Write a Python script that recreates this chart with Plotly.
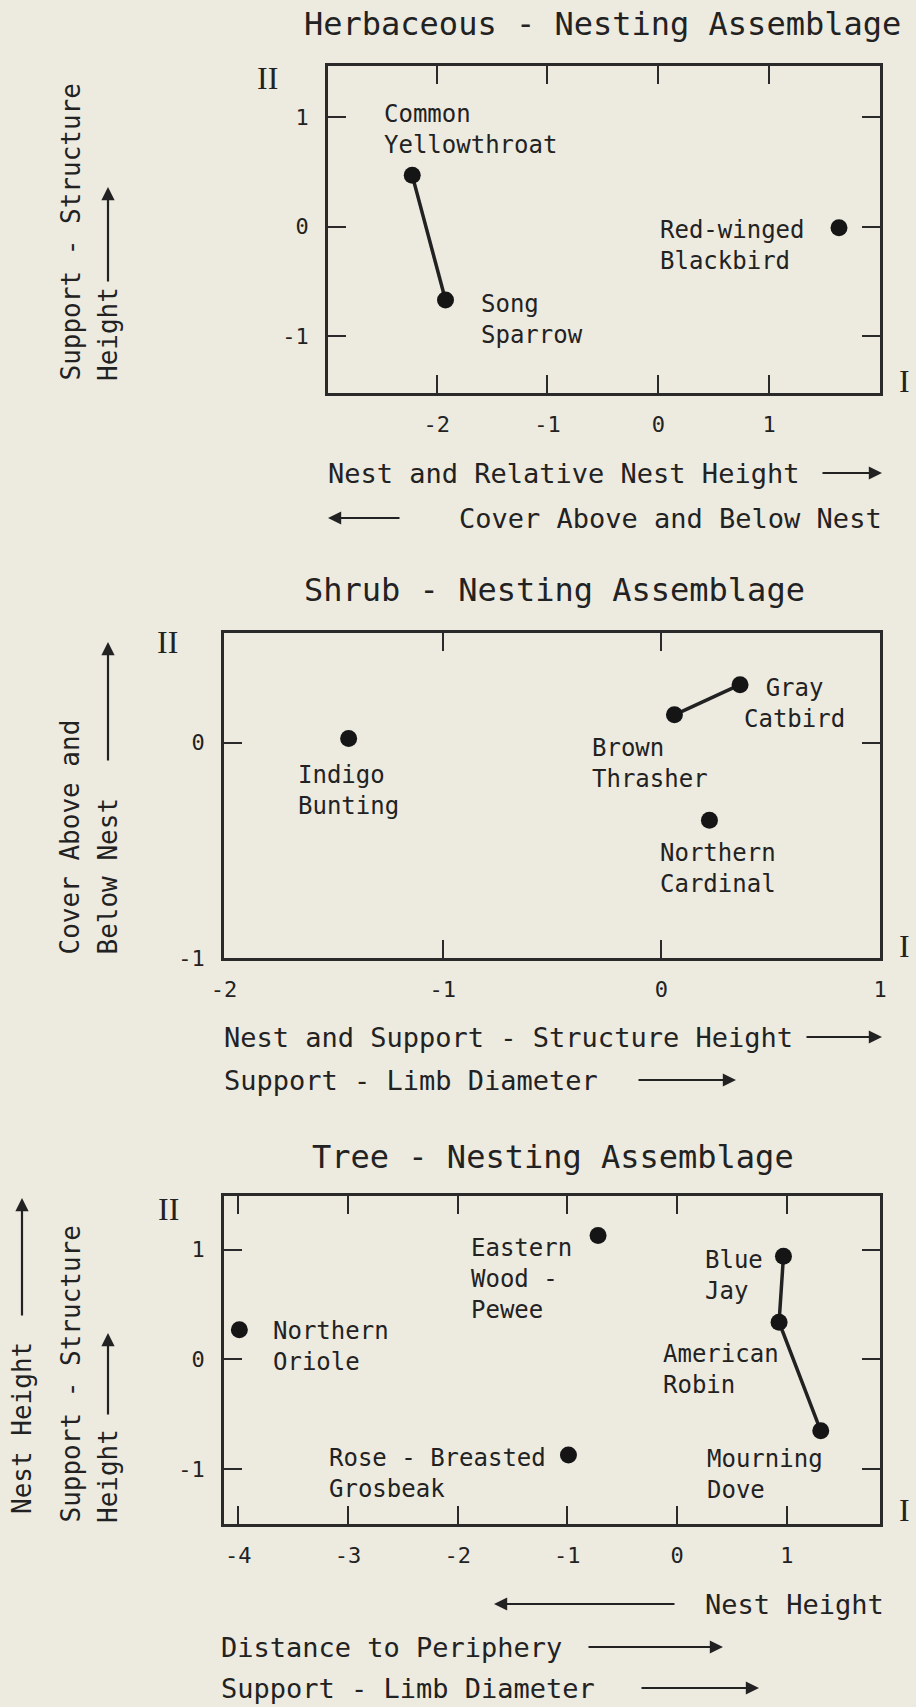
import plotly.graph_objects as go

# ---------------- data ----------------
herb_species = ["Common Yellowthroat", "Song Sparrow", "Red-winged Blackbird"]
herb_labels = ["Common<br>Yellowthroat", "Song<br>Sparrow", "Red-winged<br>Blackbird"]
herb_x = [-2.22, -1.92, 1.63]
herb_y = [0.47, -0.67, -0.01]
herb_links = [["Common Yellowthroat", "Song Sparrow"]]

shrub_species = ["Indigo Bunting", "Gray Catbird", "Brown Thrasher", "Northern Cardinal"]
shrub_labels = ["Indigo<br>Bunting", "Gray<br>Catbird", "Brown<br>Thrasher", "Northern<br>Cardinal"]
shrub_x = [-1.43, 0.36, 0.06, 0.22]
shrub_y = [0.02, 0.27, 0.13, -0.36]
shrub_links = [["Brown Thrasher", "Gray Catbird"]]

tree_species = ["Northern Oriole", "Eastern Wood-Pewee", "Blue Jay", "American Robin",
                "Mourning Dove", "Rose-Breasted Grosbeak"]
tree_labels = ["Northern<br>Oriole", "Eastern<br>Wood -<br>Pewee", "Blue<br>Jay", "American<br>Robin",
               "Mourning<br>Dove", "Rose - Breasted<br>Grosbeak"]
tree_x = [-3.99, -0.72, 0.97, 0.93, 1.31, -0.99]
tree_y = [0.27, 1.13, 0.94, 0.34, -0.65, -0.87]
tree_links = [["Blue Jay", "American Robin", "Mourning Dove"]]

herb_xticks = [-2, -1, 0, 1]
herb_yticks = [-1, 0, 1]
shrub_xticks = [-2, -1, 0, 1]
shrub_yticks = [-1, 0]
tree_xticks = [-4, -3, -2, -1, 0, 1]
tree_yticks = [-1, 0, 1]

titles = ["Herbaceous - Nesting Assemblage", "Shrub - Nesting Assemblage", "Tree - Nesting Assemblage"]

# ---------------- style ----------------
W, H = 916, 1707
BG = "#EDEAE0"
INK = "#222222"
FONT = "DejaVu Sans Mono"


def px(x):
    return x / W


def py(y):
    return 1 - y / H


# label placement offsets (pixels): dx, dy(down), anchor
label_style = {
    "Common Yellowthroat": (-30, -46, "left"),
    "Song Sparrow": (34, 19, "left"),
    "Red-winged Blackbird": (-181, 18, "left"),
    "Indigo Bunting": (-53, 52, "left"),
    "Gray Catbird": (54, 19, "center"),
    "Brown Thrasher": (-84, 49, "left"),
    "Northern Cardinal": (-51, 48, "left"),
    "Eastern Wood-Pewee": (-129, 44, "left"),
    "Blue Jay": (-80, 19, "left"),
    "American Robin": (-118, 47, "left"),
    "Mourning Dove": (-116, 44, "left"),
    "Northern Oriole": (32, 17, "left"),
    "Rose-Breasted Grosbeak": (-241, 19, "left"),
}

panels = [
    dict(sp=herb_species, lab=herb_labels, x=herb_x, y=herb_y, links=herb_links,
         xt=herb_xticks, yt=herb_yticks, xr=[-2.98, 2.0], yr=[-1.52, 1.47],
         dom_x=[328, 880], dom_y=[66, 393]),
    dict(sp=shrub_species, lab=shrub_labels, x=shrub_x, y=shrub_y, links=shrub_links,
         xt=shrub_xticks, yt=shrub_yticks, xr=[-2.0, 1.0], yr=[-1.0, 0.51],
         dom_x=[224, 880], dom_y=[633, 958]),
    dict(sp=tree_species, lab=tree_labels, x=tree_x, y=tree_y, links=tree_links,
         xt=tree_xticks, yt=tree_yticks, xr=[-4.13, 1.85], yr=[-1.5, 1.49],
         dom_x=[224, 880], dom_y=[1196, 1524]),
]

fig = go.Figure()
annotations = []

for i, p in enumerate(panels, start=1):
    xa = "x" if i == 1 else f"x{i}"
    ya = "y" if i == 1 else f"y{i}"
    lookup = {s: (xx, yy) for s, xx, yy in zip(p["sp"], p["x"], p["y"])}
    for chain in p["links"]:
        fig.add_trace(go.Scatter(
            x=[lookup[s][0] for s in chain], y=[lookup[s][1] for s in chain],
            mode="lines", line=dict(color=INK, width=3.5),
            xaxis=xa, yaxis=ya, hoverinfo="skip"))
    fig.add_trace(go.Scatter(
        x=p["x"], y=p["y"], mode="markers", text=p["sp"],
        marker=dict(color="#151515", size=17),
        xaxis=xa, yaxis=ya, hoverinfo="text"))
    for s, lab, xx, yy in zip(p["sp"], p["lab"], p["x"], p["y"]):
        dx, dy, anc = label_style[s]
        annotations.append(dict(
            x=xx, y=yy, xref=xa, yref=ya, text=lab, showarrow=False,
            xshift=dx, yshift=-dy, xanchor=anc, yanchor="middle", align=anc,
            font=dict(family=FONT, size=24, color=INK)))

    axis_common = dict(showgrid=False, zeroline=False, showline=True, linecolor="#2a2a2a",
                       linewidth=2.5, mirror="ticks", ticks="inside", tickwidth=2,
                       tickcolor="#2a2a2a", tickfont=dict(family=FONT, size=22, color=INK),
                       automargin=False)
    xkey = "xaxis" if i == 1 else f"xaxis{i}"
    ykey = "yaxis" if i == 1 else f"yaxis{i}"
    fig.update_layout(**{
        xkey: dict(axis_common, range=p["xr"], tickvals=p["xt"],
                   ticktext=[str(v) for v in p["xt"]], ticklen=18,
                   domain=[px(p["dom_x"][0]), px(p["dom_x"][1])], anchor=ya,
                   ticklabelstandoff=10),
        ykey: dict(axis_common, range=p["yr"], tickvals=p["yt"],
                   ticktext=[str(v) for v in p["yt"]], ticklen=18,
                   domain=[py(p["dom_y"][1]), py(p["dom_y"][0])], anchor=xa,
                   ticklabelstandoff=12),
    })


def text(x, y, t, size=27, xanchor="left", yanchor="middle", angle=0, family=FONT):
    annotations.append(dict(x=px(x), y=py(y), xref="paper", yref="paper", text=t,
                            showarrow=False, xanchor=xanchor, yanchor=yanchor,
                            textangle=angle, font=dict(family=family, size=size, color=INK)))


def arrow(x0, y0, x1, y1):
    # tail (x0,y0) -> head (x1,y1), in pixels
    annotations.append(dict(x=px(x1), y=py(y1), xref="paper", yref="paper", text="",
                            showarrow=True, ax=x0 - x1, ay=y0 - y1, axref="pixel", ayref="pixel",
                            arrowhead=2, arrowsize=1.2, arrowwidth=2.2, arrowcolor=INK,
                            standoff=0, startstandoff=0))


# titles
text(602, 24, titles[0], size=32, xanchor="center")
text(554, 590, titles[1], size=32, xanchor="center")
text(553, 1157, titles[2], size=32, xanchor="center")

# panel 1 axis titles
text(326, 473, "Nest and Relative Nest Height")
arrow(821, 473, 882, 473)
text(884, 518, "Cover Above and Below Nest", xanchor="right")
arrow(401, 518, 328, 518)
text(70, 383, "Support - Structure", size=26, angle=-90, xanchor="center", yanchor="bottom")
text(108, 383, "Height", size=26, angle=-90, xanchor="center", yanchor="bottom")
arrow(108, 283, 108, 187)

# panel 2 axis titles
text(222, 1037, "Nest and Support - Structure Height")
arrow(805, 1037, 882, 1037)
text(222, 1080, "Support - Limb Diameter")
arrow(637, 1080, 736, 1080)
text(70, 957, "Cover Above and", size=26, angle=-90, xanchor="center", yanchor="bottom")
text(108, 957, "Below Nest", size=26, angle=-90, xanchor="center", yanchor="bottom")
arrow(108, 762, 108, 642)

# panel 3 axis titles
text(886, 1604, "Nest Height", xanchor="right")
arrow(676, 1604, 494, 1604)
text(219, 1647, "Distance to Periphery")
arrow(587, 1647, 723, 1647)
text(219, 1688, "Support - Limb Diameter")
arrow(640, 1688, 759, 1688)
text(22, 1516, "Nest Height", size=26, angle=-90, xanchor="center", yanchor="bottom")
arrow(22, 1317, 22, 1198)
text(70, 1525, "Support - Structure", size=26, angle=-90, xanchor="center", yanchor="bottom")
text(108, 1525, "Height", size=26, angle=-90, xanchor="center", yanchor="bottom")
arrow(108, 1416, 108, 1333)

# Roman numerals
SERIF = "Liberation Serif"
text(267, 78, "II", size=32, xanchor="center", family=SERIF)
text(904, 381, "I", size=32, xanchor="center", family=SERIF)
text(167, 642, "II", size=32, xanchor="center", family=SERIF)
text(904, 946, "I", size=32, xanchor="center", family=SERIF)
text(168, 1209, "II", size=32, xanchor="center", family=SERIF)
text(904, 1510, "I", size=32, xanchor="center", family=SERIF)

fig.update_layout(
    width=W, height=H, margin=dict(l=0, r=0, t=0, b=0, pad=0, autoexpand=False),
    paper_bgcolor=BG, plot_bgcolor=BG, showlegend=False,
    annotations=annotations, hovermode="closest",
)

fig.write_html("out.html", config={"displayModeBar": False},
               post_script="document.body.style.margin='0';document.body.style.background='%s';" % BG)
